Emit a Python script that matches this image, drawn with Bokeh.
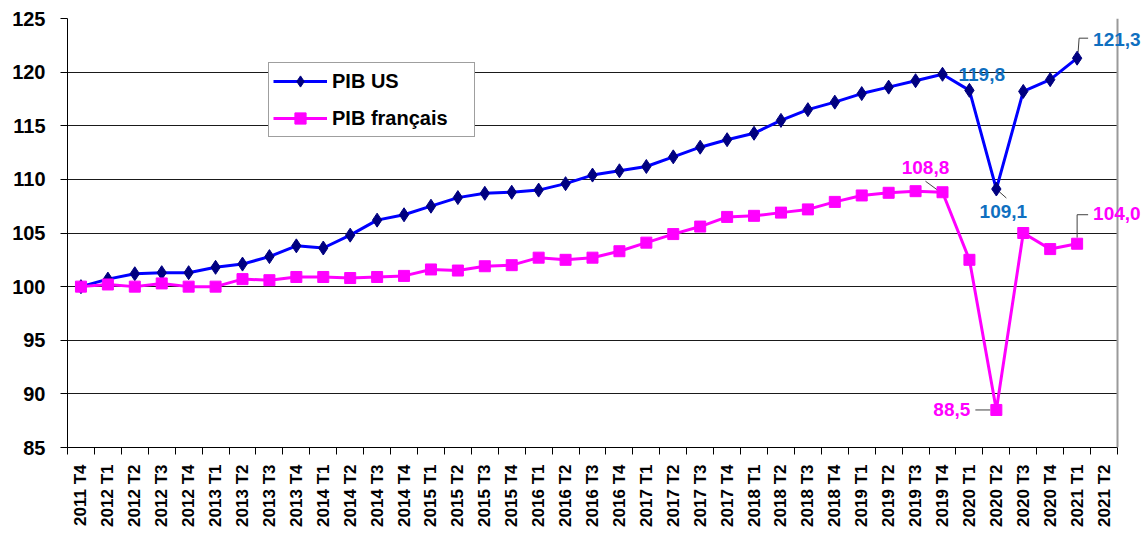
import math
from bokeh.plotting import figure
from bokeh.models import Range1d, FixedTicker, Legend, LegendItem, Label, Span, Grid
from bokeh.embed import file_html
from bokeh.resources import INLINE

# ---------------- data ----------------
quarters = ["2011 T4",
            "2012 T1", "2012 T2", "2012 T3", "2012 T4",
            "2013 T1", "2013 T2", "2013 T3", "2013 T4",
            "2014 T1", "2014 T2", "2014 T3", "2014 T4",
            "2015 T1", "2015 T2", "2015 T3", "2015 T4",
            "2016 T1", "2016 T2", "2016 T3", "2016 T4",
            "2017 T1", "2017 T2", "2017 T3", "2017 T4",
            "2018 T1", "2018 T2", "2018 T3", "2018 T4",
            "2019 T1", "2019 T2", "2019 T3", "2019 T4",
            "2020 T1", "2020 T2", "2020 T3", "2020 T4",
            "2021 T1", "2021 T2"]

pib_us = [100.0, 100.7, 101.2, 101.3, 101.3, 101.8, 102.1, 102.8, 103.8,
          103.6, 104.8, 106.2, 106.7, 107.5, 108.3, 108.7, 108.8, 109.0,
          109.6, 110.4, 110.8, 111.2, 112.1, 113.0, 113.7, 114.3, 115.5,
          116.5, 117.2, 118.0, 118.6, 119.2, 119.8, 118.3, 109.1, 118.2,
          119.3, 121.3]

pib_fr = [100.0, 100.2, 100.0, 100.3, 100.0, 100.0, 100.7, 100.6, 100.9,
          100.9, 100.8, 100.9, 101.0, 101.6, 101.5, 101.9, 102.0, 102.7,
          102.5, 102.7, 103.3, 104.1, 104.9, 105.6, 106.5, 106.6, 106.9,
          107.2, 107.9, 108.5, 108.75, 108.9, 108.8, 102.5, 88.5, 105.0,
          103.5, 104.0]

y_ticks = [85, 90, 95, 100, 105, 110, 115, 120, 125]

# ---------------- layout ----------------
FONT = "Liberation Sans"
W, H = 1147, 535
ML, MR, MT, MB = 67, 0, 18, 88
FW, FH = W - ML - MR, H - MT - MB
INNER_W = 1050                      # width of the boxed plot area
n = len(quarters)
x_lo = -0.5
x_in_hi = n - 0.5                    # right border of the boxed area
PX_X = INNER_W / (x_in_hi - x_lo)
x_hi = x_lo + FW / PX_X              # extra room on the right for labels
y_lo, y_hi = 85, 125
PX_Y = FH / (y_hi - y_lo)

p = figure(width=W, height=H, output_backend="svg", toolbar_location=None,
           x_range=Range1d(x_lo, x_hi), y_range=Range1d(y_lo, y_hi),
           min_border_left=ML, min_border_right=MR,
           min_border_top=MT, min_border_bottom=MB)
p.background_fill_color = "white"
p.border_fill_color = "white"
p.outline_line_color = None

# grid
p.xgrid.visible = False
p.ygrid.ticker = FixedTicker(ticks=y_ticks[1:-1])
p.ygrid.grid_line_color = "#1a1a1a"
p.ygrid.grid_line_width = 1
p.ygrid.cross_bounds = (x_lo, x_in_hi)
top_grid = Grid(dimension=1, ticker=FixedTicker(ticks=[y_ticks[-1]]),
                grid_line_color="#9a9a9a", grid_line_width=2,
                cross_bounds=(x_lo, x_in_hi))
p.add_layout(top_grid)
p.add_layout(Span(location=x_in_hi, dimension="height",
                  line_color="#9a9a9a", line_width=2))

# x axis
xa = p.xaxis[0]
xa.bounds = (x_lo, x_in_hi)
xa.ticker = FixedTicker(ticks=list(range(n)),
                        minor_ticks=[k - 0.5 for k in range(n + 1)])
xa.major_label_overrides = {i: q for i, q in enumerate(quarters)}
xa.major_label_orientation = math.pi / 2
xa.major_tick_line_color = None
xa.major_tick_out = 0
xa.major_tick_in = 0
xa.minor_tick_in = 0
xa.minor_tick_out = 7
xa.minor_tick_line_color = "black"
xa.axis_line_color = "black"
xa.major_label_standoff = 10
xa.major_label_text_font = FONT
xa.major_label_text_font_style = "bold"
xa.major_label_text_font_size = "17px"
xa.major_label_text_color = "black"

# y axis
ya = p.yaxis[0]
ya.ticker = FixedTicker(ticks=y_ticks)
ya.major_tick_out = 7
ya.major_tick_in = 0
ya.minor_tick_line_color = None
ya.major_tick_line_color = "black"
ya.axis_line_color = "black"
ya.major_label_standoff = 15
ya.major_label_text_font = FONT
ya.major_label_text_font_style = "bold"
ya.major_label_text_font_size = "20px"
ya.major_label_text_color = "black"

xs_us = list(range(len(pib_us)))
xs_fr = list(range(len(pib_fr)))

US_LINE, US_MARK, US_TEXT = "#0000ff", "#000080", "#0f6fc0"
FR_COL = "#ff00ff"

# ---------------- annotations (leaders + labels) ----------------
def fmt(v):
    return f"{v:.1f}".replace(".", ",")

# (series, index, color, x_off, y_off, align, leader polyline in px)
ann = [
    (pib_us, 37, US_TEXT, 16, 19, "left", [(1, 6), (2, 20), (11, 20)]),
    (pib_us, 32, US_TEXT, 16, 0, "left", None),
    (pib_us, 34, US_TEXT, 7, -22, "center", [(1, -1), (10, -9)]),
    (pib_fr, 32, FR_COL, -17, 25, "center", [(-2, 0), (-17, 11)]),
    (pib_fr, 37, FR_COL, 16, 30, "left", [(0, 6), (0, 29), (11, 29)]),
    (pib_fr, 34, FR_COL, -26, 0, "right", [(-21, 0), (-6, 0)]),
]

lx, ly = [], []
for ser, i, col, dx, dy, al, lead in ann:
    if lead:
        lx.append([i + a / PX_X for a, b in lead])
        ly.append([ser[i] + b / PX_Y for a, b in lead])
p.multi_line(lx, ly, line_color="#404040", line_width=1)

# ---------------- series ----------------
us_line = p.line(xs_us, pib_us, line_color=US_LINE, line_width=3)
us_mark = p.scatter(xs_us, pib_us, marker="diamond", size=14,
                    fill_color=US_MARK, line_color=US_MARK)
fr_line = p.line(xs_fr, pib_fr, line_color=FR_COL, line_width=3)
fr_mark = p.scatter(xs_fr, pib_fr, marker="square", size=11,
                    fill_color=FR_COL, line_color=FR_COL)

for ser, i, col, dx, dy, al, lead in ann:
    p.add_layout(Label(x=i, y=ser[i], text=fmt(ser[i]), x_offset=dx, y_offset=dy,
                       text_align=al, text_baseline="middle",
                       text_font=FONT, text_font_style="bold",
                       text_font_size="19px", text_color=col))

# ---------------- legend ----------------
legend = Legend(items=[LegendItem(label="PIB US", renderers=[us_line, us_mark]),
                       LegendItem(label="PIB français", renderers=[fr_line, fr_mark])],
                location=(201, 310), margin=0, padding=4, spacing=9,
                glyph_width=54, glyph_height=28, label_height=20,
                label_width=138, label_standoff=5)
legend.label_text_font = FONT
legend.label_text_font_style = "bold"
legend.label_text_font_size = "20px"
legend.label_text_color = "black"
legend.border_line_color = "#404040"
legend.border_line_width = 1
legend.background_fill_color = "white"
legend.background_fill_alpha = 1
p.add_layout(legend)

open("out.html", "w").write(file_html(p, INLINE))
